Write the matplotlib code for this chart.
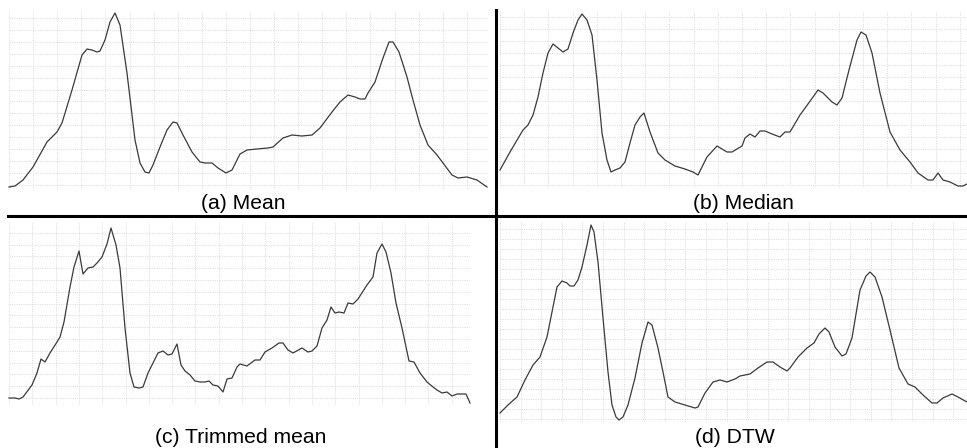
import numpy as np
import matplotlib
matplotlib.use("Agg")
import matplotlib.pyplot as plt
from matplotlib.lines import Line2D

# ---------------- data (time index, amplitude) ----------------
mean_t = [0, 6, 14, 24, 38, 48, 53, 63, 73, 78, 83, 88, 91, 96, 101, 106, 111, 118, 126, 131,
          136, 140, 144, 151, 158, 164, 168, 174, 183, 191, 196, 203, 209, 217, 223, 231, 238,
          248, 259, 264, 274, 283, 293, 303, 311, 323, 331, 339, 346, 351, 356, 359, 366, 374,
          380, 384, 390, 398, 404, 411, 419, 428, 434, 443, 449, 458, 468, 478]
mean_v = [3, 4, 10, 23, 48, 58, 67, 100, 135, 141, 140, 138, 139, 150, 168, 177, 165, 117, 50, 27,
          18, 17, 25, 43, 60, 68, 67, 55, 38, 28, 27, 27, 22, 17, 20, 36, 40,
          41, 42, 43, 52, 55, 54, 55, 62, 78, 88, 95, 93, 91, 91, 97, 108, 132,
          148, 148, 138, 113, 90, 65, 45, 35, 27, 15, 12, 13, 10, 3]

median_t = [0, 10, 23, 28, 33, 38, 43, 48, 53, 58, 63, 68, 73, 78, 82, 87, 92, 97, 102, 107,
            111, 115, 120, 125, 130, 135, 140, 144, 150, 158, 165, 175, 185, 193, 198, 202, 207,
            217, 222, 227, 232, 237, 242, 245, 250, 255, 260, 265, 272, 280, 285, 290, 300, 308,
            318, 323, 332, 337, 342, 349, 357, 361, 366, 372, 380, 390, 400, 410, 418, 428, 433,
            438, 443, 450, 458, 463, 467]
median_v = [18, 36, 58, 63, 73, 91, 115, 135, 144, 140, 136, 139, 155, 168, 174, 168, 153, 108, 55, 28,
            16, 18, 20, 26, 45, 63, 71, 75, 56, 35, 28, 22, 19, 16, 13, 21, 31,
            42, 39, 36, 36, 39, 42, 50, 54, 51, 57, 57, 54, 51, 56, 56, 73, 84,
            98, 95, 86, 83, 90, 118, 148, 156, 153, 135, 95, 56, 38, 26, 15, 8, 8,
            15, 8, 6, 2, 2, 4]

trim_t = [0, 6, 10, 14, 23, 28, 32, 36, 41, 48, 51, 55, 61, 65, 70, 74, 79, 84, 88, 93,
          98, 102, 107, 111, 116, 121, 125, 130, 134, 139, 144, 149, 154, 159, 163, 168, 172,
          176, 181, 186, 191, 196, 200, 204, 209, 214, 218, 223, 228, 231, 238, 246, 251, 256,
          263, 270, 274, 279, 284, 293, 299, 303, 308, 313, 318, 322, 326, 330, 335, 339, 344,
          349, 358, 364, 368, 373, 377, 382, 387, 393, 400, 405, 411, 418, 424, 428, 433, 438,
          443, 448, 457, 461]
trim_v = [7, 7, 6, 8, 20, 32, 46, 43, 52, 63, 68, 83, 118, 138, 154, 131, 137, 138, 142, 148,
          161, 177, 160, 137, 77, 32, 18, 17, 18, 32, 42, 52, 54, 50, 51, 61, 40,
          34, 30, 24, 23, 23, 24, 20, 19, 13, 26, 27, 38, 41, 39, 45, 45, 53,
          57, 62, 62, 55, 52, 57, 53, 54, 59, 77, 85, 98, 92, 93, 92, 102, 101,
          106, 120, 128, 152, 161, 153, 132, 102, 77, 44, 43, 32, 23, 18, 15, 12, 13,
          9, 11, 11, 2]

dtw_t = [0, 8, 17, 25, 33, 40, 47, 52, 57, 62, 67, 70, 74, 78, 82, 87, 91, 94, 98, 103,
         108, 112, 116, 119, 123, 128, 135, 142, 148, 152, 158, 163, 168, 175, 185, 195, 198,
         205, 213, 220, 227, 235, 240, 250, 258, 267, 273, 280, 287, 290, 298, 307, 314, 319,
         325, 329, 335, 342, 346, 352, 360, 366, 370, 375, 382, 390, 399, 408, 415, 423, 432,
         437, 443, 452, 458, 467]
dtw_v = [7, 15, 23, 40, 55, 63, 83, 108, 133, 139, 137, 134, 134, 140, 153, 175, 195, 188, 158, 102,
         48, 15, 3, 0, 3, 15, 42, 77, 98, 95, 72, 48, 23, 18, 15, 12, 13,
         27, 38, 40, 38, 41, 44, 46, 52, 58, 58, 53, 49, 52, 63, 72, 77, 86,
         92, 88, 73, 64, 66, 82, 130, 144, 148, 143, 123, 90, 52, 36, 33, 25, 17,
         17, 22, 26, 23, 18]

captions = ["(a) Mean", "(b) Median", "(c) Trimmed mean", "(d) DTW"]
series = [(mean_t, mean_v), (median_t, median_v), (trim_t, trim_v), (dtw_t, dtw_v)]

# ---------------- layout ----------------
W, H = 967, 448
fig = plt.figure(figsize=(W / 100, H / 100), dpi=100)
fig.patch.set_facecolor("white")

panels = [
    dict(box=(9, 12, 487, 190), xlim=(0, 478), ylim=(0, 178),
         xs=24.1, nx=20, y0=5, ys=11.93, ny=15, cap=(243, 203)),
    dict(box=(500, 12, 967, 188), xlim=(0, 467), ylim=(0, 176),
         xs=24.2, nx=20, y0=3, ys=12.0, ny=15, cap=(743, 203)),
    dict(box=(9, 222, 470, 405), xlim=(0, 461), ylim=(0, 183),
         xs=23.3, nx=20, y0=7, ys=11.8, ny=15, cap=(241, 437)),
    dict(box=(500, 222, 967, 422), xlim=(0, 467), ylim=(-2, 198),
         xs=20.6, nx=23, y0=1, ys=10.0, ny=20, cap=(735, 437)),
]

for p, (t, v), cap in zip(panels, series, captions):
    l, tp, r, b = p["box"]
    ax = fig.add_axes([l / W, 1 - b / H, (r - l) / W, (b - tp) / H])
    ax.set_xlim(*p["xlim"])
    ax.set_ylim(*p["ylim"])
    ax.set_xticks([p["xs"] * k for k in range(p["nx"]) if p["xs"] * k <= p["xlim"][1] - 5])
    ax.set_yticks([p["y0"] + p["ys"] * k for k in range(p["ny"])])
    ax.grid(True, linestyle=(0, (1.2, 1.2)), color="#dedede", linewidth=0.7)
    ax.tick_params(length=0, labelbottom=False, labelleft=False)
    for s in ax.spines.values():
        s.set_visible(False)
    ax.set_axisbelow(True)
    ax.plot(t, v, color="#3a3a3a", linewidth=0.9, clip_on=False,
            solid_joinstyle="round")
    fig.text(p["cap"][0] / W, 1 - p["cap"][1] / H, cap, ha="center", va="center",
             fontsize=15.2, family=["Liberation Sans", "DejaVu Sans"], color="black")

# divider lines
fig.add_artist(Line2D([8 / W, 1.0], [1 - 216 / H, 1 - 216 / H], color="black",
                      linewidth=2.2, transform=fig.transFigure))
fig.add_artist(Line2D([496 / W, 496 / W], [1 - 10 / H, 0.0], color="black",
                      linewidth=2.2, transform=fig.transFigure))

fig.savefig("out.png", dpi=100, facecolor="white")
